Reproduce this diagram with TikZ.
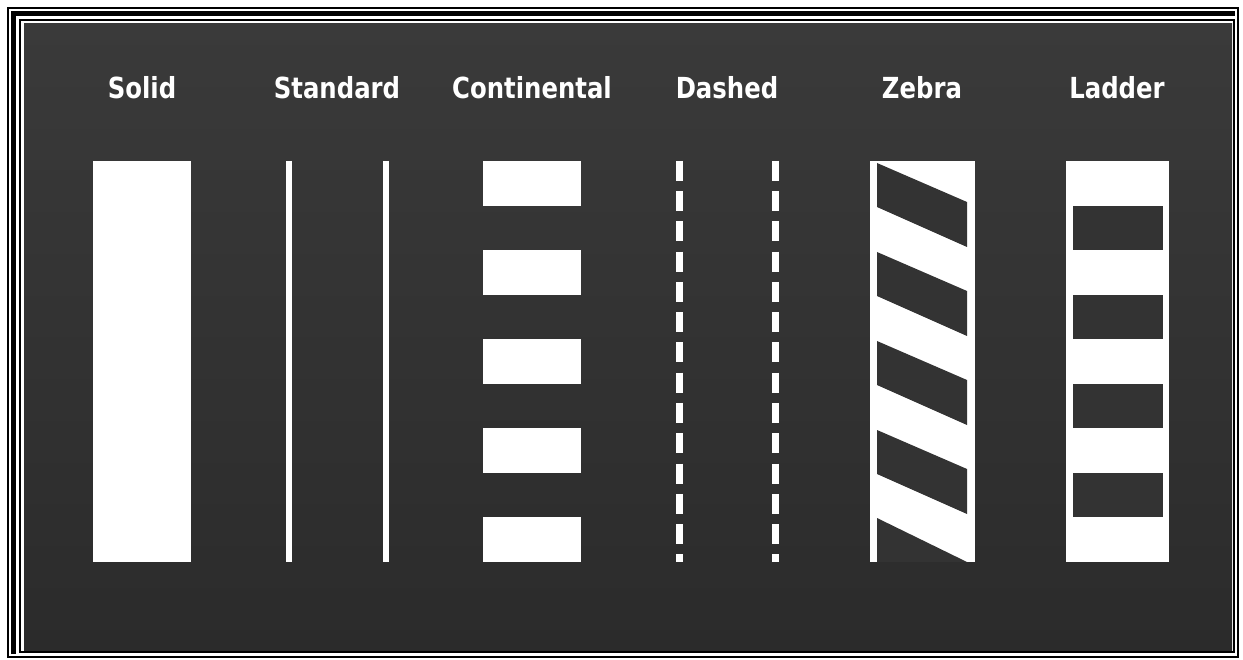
\documentclass[tikz,border=0pt]{standalone}
\usepackage{fontspec}
\newfontfamily\labfont[FakeStretch=0.84]{DejaVu Sans}
\definecolor{asphalt}{HTML}{333333}
\definecolor{asphalttop}{HTML}{3A3A3A}
\definecolor{asphaltbot}{HTML}{2B2B2B}
\begin{document}
\begin{tikzpicture}[x=1pt,y=-1pt,font=\labfont\bfseries\fontsize{29}{32}\selectfont]
\useasboundingbox (0,0) rectangle (1243,660);
\fill[white] (0,0) rectangle (1243,660);
% frame round the panel
\draw[line width=2] (8,8) rectangle (1238,657);
\draw[line width=5] (13.5,654) -- (13.5,13.5) -- (1235,13.5);
\draw[line width=2] (20,20) rectangle (1234,652);
\shade[top color=asphalttop,bottom color=asphaltbot] (24,24) rectangle (1232,650);
\foreach \lab/\x/\nm in {Solid/142/solid,Standard/337/standard,Continental/532/continental,Dashed/727/dashed,Zebra/922/zebra,Ladder/1117/ladder}{
  \node[anchor=base,text=white,inner sep=0pt] (\nm) at (\x,99) {\lab};}
\fill[white] (93,161) rectangle (191,562);
\foreach \x in {288.5,385.5}{
  \draw[white,line width=6] (\x,161) -- (\x,562);}
\foreach \i in {0,...,4}{
  \fill[white] (483,161+89*\i) rectangle (581,206+89*\i);}
\foreach \x in {679,775.5}{
  \draw[white,line width=7,dash pattern=on 20pt off 10.25pt] (\x,161) -- (\x,562);}
% zebra and ladder: white strip with dark cut-outs
\fill[white] (870,161) rectangle (975,562);
\foreach \i in {0,...,3}{
  \fill[asphalt] (877,163+89*\i) -- (967,202+89*\i) -- (967,247+89*\i) -- (877,207+89*\i) -- cycle;}
\fill[asphalt] (877,518) -- (967,562) -- (877,562) -- cycle;
\fill[white] (1066,161) rectangle (1169,562);
\foreach \i in {0,...,3}{
  \fill[asphalt] (1073,206+89*\i) rectangle (1163,250+89*\i);}
\end{tikzpicture}
\end{document}
